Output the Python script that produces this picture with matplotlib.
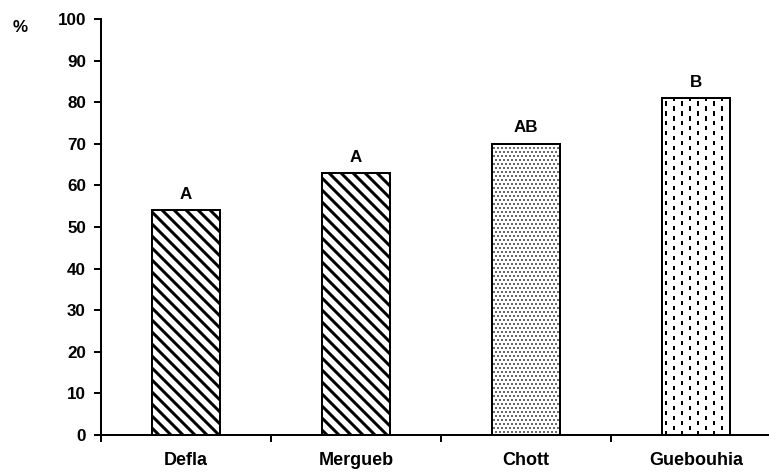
import matplotlib
matplotlib.use("Agg")
import matplotlib.pyplot as plt
import numpy as np
from matplotlib.collections import LineCollection

categories = ["Defla", "Mergueb", "Chott", "Guebouhia"]
values = [54, 63, 70, 81]
letters = ["A", "A", "AB", "B"]
yticks = [0, 10, 20, 30, 40, 50, 60, 70, 80, 90, 100]

plt.rcParams['font.family'] = ['Liberation Sans', 'DejaVu Sans']
plt.rcParams['font.weight'] = 'bold'

DPI = 72
fig = plt.figure(figsize=(769 / DPI, 473 / DPI), dpi=DPI)
ax = fig.add_axes([101 / 769, 1 - 435 / 473, 680 / 769, (435 - 19) / 473])

x = np.arange(len(categories))
w = 0.4
for i, v in enumerate(values):
    if i < 2:
        with plt.rc_context({'hatch.linewidth': 3.0}):
            b = ax.bar(x[i], v, width=w, facecolor='white', edgecolor='black',
                       hatch='\\\\', linewidth=0, zorder=2)[0]
        if hasattr(b, 'set_hatch_linewidth'):
            b.set_hatch_linewidth(3.0)
    elif i == 2:
        with plt.rc_context({'hatch.linewidth': 1.3}):
            b = ax.bar(x[i], v, width=w, facecolor='white', edgecolor='#505050',
                       hatch='...', linewidth=0, zorder=2)[0]
        if hasattr(b, 'set_hatch_linewidth'):
            b.set_hatch_linewidth(1.3)
    else:
        b = ax.bar(x[i], v, width=w, facecolor='white', linewidth=0, zorder=2)[0]
        # vertical dashes pattern, clipped to the bar
        x0, x1 = x[i] - w / 2, x[i] + w / 2
        dx = w / 8.5
        dy = 2.4
        segs = []
        cols = np.arange(x0 + dx * 0.5, x1, dx)
        for k, cx in enumerate(cols):
            off = (dy / 2) if k % 2 else 0
            ys = np.arange(-dy + off, v + dy, dy)
            for yy in ys:
                segs.append([(cx, yy), (cx, yy + 1.0)])
        lc = LineCollection(segs, colors='black', linewidths=2.0, zorder=2.5)
        ax.add_collection(lc)
        lc.set_clip_path(b)
    ax.bar(x[i], v, width=w, facecolor='none', edgecolor='black', linewidth=2.0, zorder=3)
    ax.text(x[i], v + 2, letters[i], ha='center', va='bottom', fontsize=17, fontweight='bold')

ax.set_xlim(-0.5, 3.5)
ax.set_ylim(0, 100)
ax.set_yticks(yticks)
ax.set_yticklabels([str(t) for t in yticks], fontsize=17, fontweight='bold')
ax.set_xticks(x)
ax.set_xticklabels(categories, fontsize=18, fontweight='bold')
ax.tick_params(axis='x', length=0, pad=17)
ax.set_xticks(np.arange(-0.5, 4, 1.0), minor=True)
ax.tick_params(axis='x', which='minor', length=7, width=2, direction='out')
ax.tick_params(axis='y', length=7, width=2, direction='out', pad=8)
for s in ['top', 'right']:
    ax.spines[s].set_visible(False)
for s in ['left', 'bottom']:
    ax.spines[s].set_linewidth(2)

fig.text(20 / 769, 1 - 27 / 473, '%', fontsize=17, fontweight='bold', ha='center', va='center')

fig.savefig('out.png', dpi=DPI)
